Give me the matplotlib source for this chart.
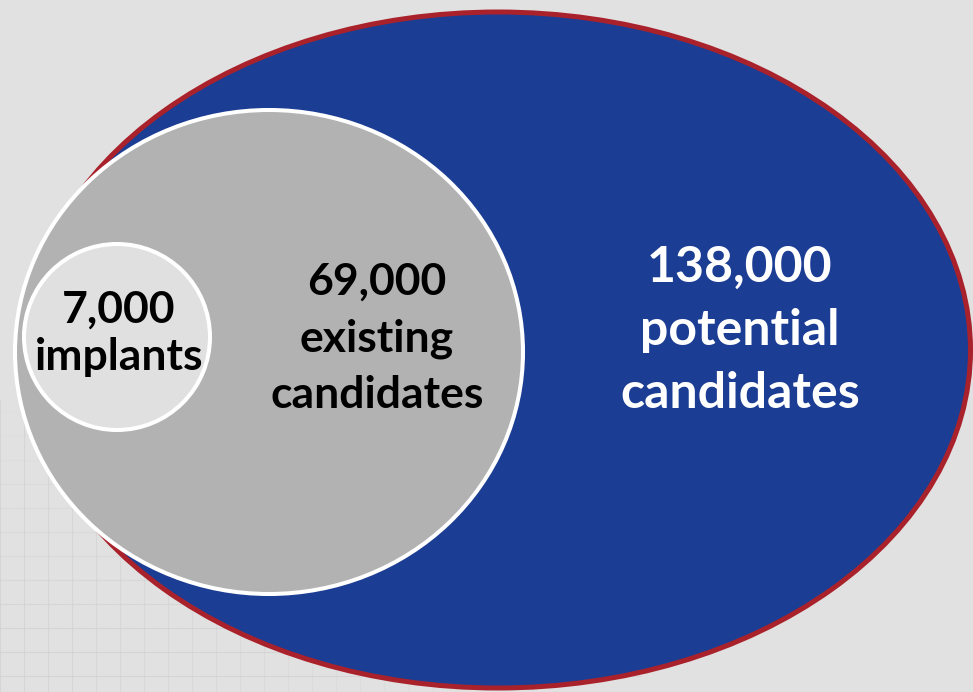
import matplotlib
matplotlib.use("Agg")
import matplotlib.pyplot as plt
from matplotlib.patches import Ellipse
import numpy as np

# ---- data ----
values = [138000, 69000, 7000]
value_labels = ["138,000", "69,000", "7,000"]
descriptions = [["potential", "candidates"], ["existing", "candidates"], ["implants"]]

# ---- style ----
bg = "#e1e1e1"
fills = ["#1b3d93", "#b2b2b2", "#e0e0e0"]
edges = ["#a9222b", "white", "white"]
edge_w = [3.6, 2.9, 2.9]
text_colors = ["white", "black", "black"]

W, H = 973, 692
fig = plt.figure(figsize=(W / 100, H / 100), dpi=100, facecolor=bg)
ax = fig.add_axes([0, 0, 1, 1])
ax.set_xlim(0, W)
ax.set_ylim(H, 0)
ax.set_facecolor(bg)
ax.axis("off")

# faint background grid texture (lower left)
for gx in np.arange(0, 640, 24):
    ax.plot([gx, gx], [400, H], color="#d2d2d2", lw=0.8,
            alpha=max(0.0, 0.8 - gx / 700), zorder=0)
for gy in np.arange(412, H, 24):
    ax.plot([0, 640], [gy, gy], color="#d2d2d2", lw=0.8,
            alpha=min(0.8, (gy - 400) / 300), zorder=0)

# ellipse layout (center x, center y, width, height) in pixels
geom = [
    (498, 350, 945, 676),
    (269, 352, 508, 484),
    (117, 337, 186, 186),
]

for i, (cx, cy, w, h) in enumerate(geom):
    ax.add_patch(Ellipse((cx, cy), w, h, facecolor=fills[i], edgecolor=edges[i],
                         lw=edge_w[i], zorder=2 + i))

font = "Lato"
# label positions: (center x, first baseline y, line step, fontsize)
label_pos = [
    (740, 282, 63, 36),
    (377, 295, 56.5, 32),
    (119, 323, 47, 32),
]
for i in range(3):
    x, y0, step, fs = label_pos[i]
    lines = [value_labels[i]] + descriptions[i]
    for k, line in enumerate(lines):
        ax.text(x, y0 + k * step, line, ha="center", va="baseline",
                fontsize=fs, fontweight="bold", family=font,
                color=text_colors[i], zorder=10)

fig.savefig("out.png", dpi=100, facecolor=bg)
